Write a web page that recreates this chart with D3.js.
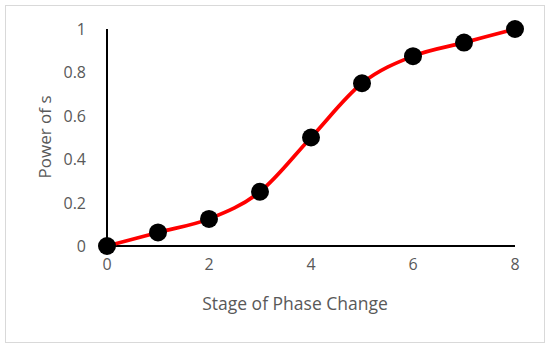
<!DOCTYPE html>
<html>
<head>
<meta charset="utf-8">
<script src="https://cdn.jsdelivr.net/npm/d3@7"></script>
<style>
body { margin: 0; background: #fff; }
text { font-family: "Open Sans", "Liberation Sans", sans-serif; fill: #595959; }
</style>
</head>
<body>
<div class="chart"></div>
<script>
var width = 550, height = 348;

// data
var stages = [0, 1, 2, 3, 4, 5, 6, 7, 8];
var power = [0, 0.0625, 0.125, 0.25, 0.5, 0.75, 0.875, 0.9375, 1];
var xTicks = [0, 2, 4, 6, 8];
var yTicks = [0, 0.2, 0.4, 0.6, 0.8, 1];

var svg = d3.select(".chart").append("svg")
	.attr("width", width)
	.attr("height", height);

svg.append("rect")
	.attr("x", 5.5).attr("y", 5.5)
	.attr("width", 539).attr("height", 337)
	.attr("fill", "#fff")
	.attr("stroke", "#d9d9d9");

var x = d3.scaleLinear().domain([0, 8]).range([107, 515]);
var y = d3.scaleLinear().domain([0, 1]).range([246, 29]);

// axes lines
svg.append("line")
	.attr("x1", x(0)).attr("x2", x(8))
	.attr("y1", y(0)).attr("y2", y(0))
	.attr("stroke", "#000").attr("stroke-width", 2);
svg.append("line")
	.attr("x1", x(0)).attr("x2", x(0))
	.attr("y1", y(0)).attr("y2", y(1))
	.attr("stroke", "#000").attr("stroke-width", 2);

svg.selectAll(".xt").data(xTicks).enter().append("text")
	.attr("class", "xt")
	.attr("x", function(d){ return x(d); })
	.attr("y", 270)
	.attr("text-anchor", "middle")
	.style("font-size", "16px")
	.text(function(d){ return d; });

svg.selectAll(".yt").data(yTicks).enter().append("text")
	.attr("class", "yt")
	.attr("x", 86)
	.attr("y", function(d){ return y(d) + 6; })
	.attr("text-anchor", "end")
	.style("font-size", "16px")
	.text(function(d){ return d; });

svg.append("text")
	.attr("x", 295).attr("y", 310)
	.attr("text-anchor", "middle")
	.style("font-size", "17.5px")
	.text("Stage of Phase Change");

svg.append("text")
	.attr("transform", "translate(51,137) rotate(-90)")
	.attr("text-anchor", "middle")
	.style("font-size", "17px")
	.text("Power of s");

var line = d3.line()
	.x(function(d, i){ return x(stages[i]); })
	.y(function(d){ return y(d); })
	.curve(d3.curveCardinal.tension(0));

svg.append("path")
	.datum(power)
	.attr("d", line)
	.attr("fill", "none")
	.attr("stroke", "#ff0000")
	.attr("stroke-width", 3.75);

svg.selectAll(".dot").data(power).enter().append("circle")
	.attr("class", "dot")
	.attr("cx", function(d, i){ return x(stages[i]); })
	.attr("cy", function(d){ return y(d); })
	.attr("r", 9)
	.attr("fill", "#000");
</script>
</body>
</html>
